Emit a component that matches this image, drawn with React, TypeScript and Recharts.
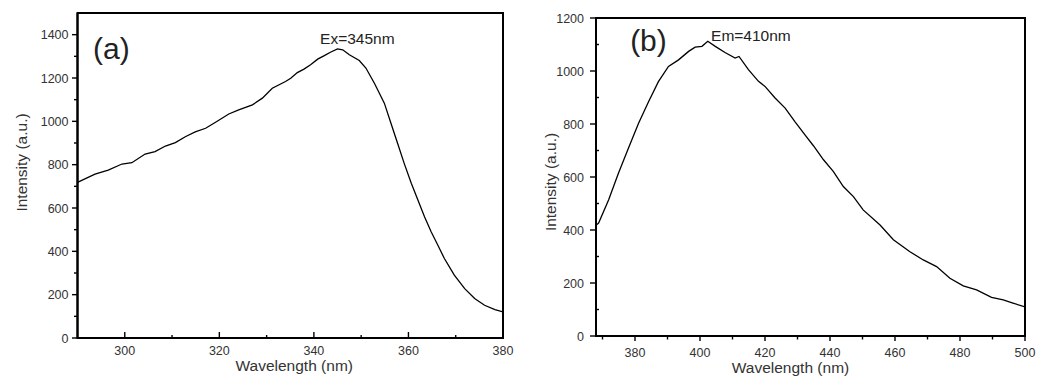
import React from "react";
import { LineChart, Line, XAxis, YAxis, ReferenceArea, ReferenceDot } from "recharts";

// Panel (a): excitation spectrum
const wavelengthA = [290, 293.7, 296.5, 299.4, 301.5, 304.3, 306.4, 308.6, 310.7, 312.8, 314.9, 317.1, 319.2, 322, 324.1, 327, 329.1, 331.2, 334, 335.1, 336.5, 337.9, 339.3, 340.8, 342.2, 343.6, 345, 346.1, 347.5, 349.6, 351, 352.8, 354.9, 356.3, 357.7, 359.1, 360.6, 362, 363.4, 364.8, 366.2, 367.6, 369.7, 371.9, 374, 376.1, 378.3, 380];
const intensityA = [718, 756, 775, 803, 809, 849, 860, 886, 902, 929, 951, 968, 996, 1034, 1053, 1076, 1107, 1153, 1184, 1199, 1225, 1241, 1261, 1287, 1303, 1320, 1334, 1330, 1307, 1281, 1246, 1176, 1084, 991, 899, 806, 714, 637, 560, 490, 429, 367, 290, 228, 182, 151, 131, 120];

// Panel (b): emission spectrum
const wavelengthB = [368, 368.8, 371.9, 374.9, 378, 381.1, 384.2, 387.2, 390.3, 393.4, 396.5, 398.5, 400.6, 402.4, 404.7, 407.7, 410.8, 412, 414.9, 418, 420, 423.1, 426.2, 429.2, 432.3, 434.9, 438, 441, 444.1, 447.2, 450.2, 455.4, 459.5, 464.6, 468.7, 472.8, 476.9, 481, 485.1, 489.7, 493.3, 496.3, 500];
const intensityB = [418, 426, 514, 614, 709, 803, 885, 960, 1017, 1042, 1074, 1090, 1093, 1112, 1093, 1070, 1049, 1055, 1005, 961, 942, 898, 860, 809, 759, 718, 665, 621, 564, 526, 476, 419, 363, 318, 287, 262, 218, 189, 174, 146, 136, 124, 110];

const xTicksA = [300, 310, 320, 330, 340, 350, 360, 370, 380];
const yTicksA = [0, 100, 200, 300, 400, 500, 600, 700, 800, 900, 1000, 1100, 1200, 1300, 1400];
const xTicksB = [370, 380, 390, 400, 410, 420, 430, 440, 450, 460, 470, 480, 490, 500];
const yTicksB = [0, 100, 200, 300, 400, 500, 600, 700, 800, 900, 1000, 1100, 1200];

const dataA = wavelengthA.map((w, i) => ({ w, v: intensityA[i] }));
const dataB = wavelengthB.map((w, i) => ({ w, v: intensityB[i] }));

const FONT = "'Liberation Sans', Arial, sans-serif";
const TICK_COLOR = "#333";

const makeXTick = (majorStep: number, inward: boolean, majorLen: number, minorLen: number, labelDy: number) =>
  (props: any) => {
    const { x, y, payload } = props;
    const major = payload.value % majorStep === 0;
    const len = major ? majorLen : minorLen;
    const y2 = inward ? y - len : y + len;
    return (
      <g>
        <line x1={x} y1={y} x2={x} y2={y2} stroke="#000" strokeWidth={1.4} />
        {major && (
          <text x={x} y={y + labelDy} textAnchor="middle" fontSize={12.5} fill={TICK_COLOR} fontFamily={FONT}>
            {payload.value}
          </text>
        )}
      </g>
    );
  };

const makeYTick = (majorStep: number, majorLen: number, minorLen: number, minorInward: boolean, labelDx: number) =>
  (props: any) => {
    const { x, y, payload } = props;
    const major = payload.value % majorStep === 0;
    const x2 = major ? x - majorLen : minorInward ? x + minorLen : x - minorLen;
    return (
      <g>
        <line x1={x} y1={y} x2={x2} y2={y} stroke="#000" strokeWidth={1.4} />
        {major && (
          <text x={x - labelDx} y={y} dy={4.5} textAnchor="end" fontSize={12.5} fill={TICK_COLOR} fontFamily={FONT}>
            {payload.value}
          </text>
        )}
      </g>
    );
  };

const xTitle = (dx: number, dy: number) => (p: any) => {
  const vb = p.viewBox;
  return (
    <text x={vb.x + vb.width / 2 + dx} y={vb.y + dy} textAnchor="middle" fontSize={15.5} fill={TICK_COLOR} fontFamily={FONT}>
      Wavelength (nm)
    </text>
  );
};

const yTitle = (cx: number, dyc: number) => (p: any) => {
  const vb = p.viewBox;
  const cy = vb.y + vb.height / 2 + dyc;
  return (
    <text x={cx} y={cy} transform={`rotate(-90 ${cx} ${cy})`} textAnchor="middle" dominantBaseline="central" fontSize={15.5} fill={TICK_COLOR} fontFamily={FONT}>
      Intensity (a.u.)
    </text>
  );
};

const textLabel = (txt: string, size: number, anchor: string) => (p: any) => {
  const vb = p.viewBox;
  return (
    <text x={vb.x + vb.width / 2} y={vb.y + vb.height / 2} textAnchor={anchor} fontSize={size} fill="#222" fontFamily={FONT}>
      {txt}
    </text>
  );
};

export default function App() {
  return (
    <div style={{ position: "absolute", left: 0, top: 0, width: 1037, height: 378, background: "#fff", display: "flex" }}>
      <LineChart width={520} height={378} data={dataA} margin={{ top: 13, right: 17, bottom: 0, left: 0 }}>
        <XAxis
          dataKey="w"
          type="number"
          domain={[290, 380]}
          allowDataOverflow
          ticks={xTicksA}
          interval={0}
          height={40}
          tickSize={0}
          tickMargin={0}
          tickLine={false}
          axisLine={{ stroke: "#000", strokeWidth: 2 }}
          tick={makeXTick(20, true, 6, 3, 17)}
          label={{ content: xTitle(4, 33) }}
        />
        <YAxis
          type="number"
          domain={[0, 1500]}
          allowDataOverflow
          ticks={yTicksA}
          interval={0}
          width={77.5}
          tickSize={0}
          tickMargin={0}
          tickLine={false}
          axisLine={{ stroke: "#000", strokeWidth: 2 }}
          tick={makeYTick(200, 5.5, 3.5, false, 9)}
          label={{ content: yTitle(21.7, -13) }}
        />
        <ReferenceArea x1={290} x2={380} y1={0} y2={1500} fill="#fff" fillOpacity={0} stroke="#000" strokeWidth={2} />
        <Line type="linear" dataKey="v" stroke="#000" strokeWidth={1.3} dot={false} isAnimationActive={false} />
        <ReferenceDot x={293.3} y={1289} r={0} fill="none" stroke="none" label={{ content: textLabel("(a)", 30, "start") }} />
        <ReferenceDot x={349.2} y={1357} r={0} fill="none" stroke="none" label={{ content: textLabel("Ex=345nm", 15.5, "middle") }} />
      </LineChart>
      <LineChart width={517} height={378} data={dataB} margin={{ top: 18, right: 12, bottom: 0, left: 0 }}>
        <XAxis
          dataKey="w"
          type="number"
          domain={[368, 500]}
          allowDataOverflow
          ticks={xTicksB}
          interval={0}
          height={42}
          tickSize={0}
          tickMargin={0}
          tickLine={false}
          axisLine={{ stroke: "#000", strokeWidth: 2 }}
          tick={makeXTick(20, false, 5, 3.5, 20.7)}
          label={{ content: xTitle(-20, 37) }}
        />
        <YAxis
          type="number"
          domain={[0, 1200]}
          allowDataOverflow
          ticks={yTicksB}
          interval={0}
          width={76}
          tickSize={0}
          tickMargin={0}
          tickLine={false}
          axisLine={{ stroke: "#000", strokeWidth: 2 }}
          tick={makeYTick(200, 6, 3, true, 12)}
          label={{ content: yTitle(30, 5) }}
        />
        <ReferenceArea x1={368} x2={500} y1={0} y2={1200} fill="#fff" fillOpacity={0} stroke="#000" strokeWidth={2} />
        <Line type="linear" dataKey="v" stroke="#000" strokeWidth={1.3} dot={false} isAnimationActive={false} />
        <ReferenceDot x={378.5} y={1077} r={0} fill="none" stroke="none" label={{ content: textLabel("(b)", 30, "start") }} />
        <ReferenceDot x={403.4} y={1115} r={0} fill="none" stroke="none" label={{ content: textLabel("Em=410nm", 15.5, "start") }} />
      </LineChart>
    </div>
  );
}
